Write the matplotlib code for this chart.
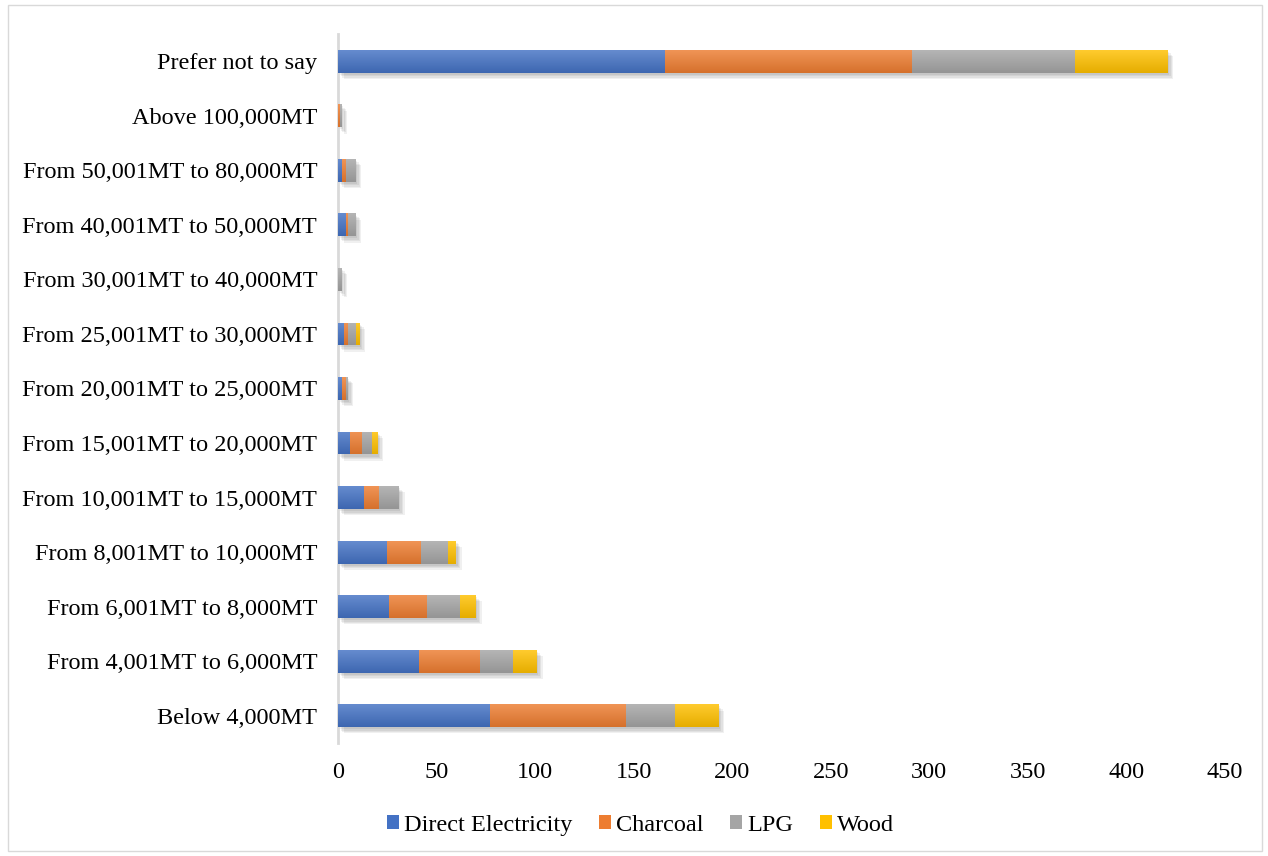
import numpy as np
import matplotlib
matplotlib.use("Agg")
import matplotlib.pyplot as plt
import matplotlib.patheffects as pe
from matplotlib.patches import Patch, Rectangle
from matplotlib.colors import to_rgb

categories = [
    "Below 4,000MT",
    "From 4,001MT to 6,000MT",
    "From 6,001MT to 8,000MT",
    "From 8,001MT to 10,000MT",
    "From 10,001MT to 15,000MT",
    "From 15,001MT to 20,000MT",
    "From 20,001MT to 25,000MT",
    "From 25,001MT to 30,000MT",
    "From 30,001MT to 40,000MT",
    "From 40,001MT to 50,000MT",
    "From 50,001MT to 80,000MT",
    "Above 100,000MT",
    "Prefer not to say",
]
series_names = ["Direct Electricity", "Charcoal", "LPG", "Wood"]
direct_electricity = [77, 41, 26, 25, 13, 6, 2, 3, 0, 4, 2, 0, 166]
charcoal = [69, 31, 19, 17, 8, 6, 2, 2, 0, 1, 2, 1, 125]
lpg = [25, 17, 17, 14, 10, 5, 1, 4, 2, 4, 5, 1, 83]
wood = [22, 12, 8, 4, 0, 3, 0, 2, 0, 0, 0, 0, 47]
x_ticks = [0, 50, 100, 150, 200, 250, 300, 350, 400, 450]

colors = ["#4472C4", "#ED7D31", "#A5A5A5", "#FFC000"]

plt.rcParams["font.family"] = ["Liberation Serif", "DejaVu Serif"]

W, H = 1268, 856
fig = plt.figure(figsize=(W / 100, H / 100), dpi=100)
ax = fig.add_axes([338 / W, 1 - 743 / H, (1225 - 338) / W, (743 - 34) / H])


def gradient_for(color):
    base = np.array(to_rgb(color))
    top = base + (1 - base) * 0.18
    bottom = base * 0.90
    t = np.linspace(0, 1, 64)[:, None]
    grad = top[None, :] * (1 - t) + bottom[None, :] * t
    return grad[:, None, :]


# soft drop shadow built from a few faint, progressively offset copies
shadow = [pe.SimplePatchShadow(offset=(d, -d - 0.5), shadow_rgbFace="#000000", alpha=0.06)
          for d in (1, 2, 3, 4)] + [pe.Normal()]

y = np.arange(len(categories))
bar_h = 0.42
left = np.zeros(len(categories))
for name, vals, col in zip(series_names, [direct_electricity, charcoal, lpg, wood], colors):
    vals = np.asarray(vals, dtype=float)
    bars = ax.barh(y, vals, left=left, height=bar_h, color=col, zorder=2, label=name)
    grad = gradient_for(col)
    for rect, v in zip(bars, vals):
        if v <= 0:
            rect.set_visible(False)
            continue
        rect.set_path_effects(shadow)
        x0, y0 = rect.get_x(), rect.get_y()
        im = ax.imshow(grad, extent=(x0, x0 + rect.get_width(), y0, y0 + rect.get_height()),
                       aspect="auto", origin="upper", zorder=3, interpolation="bilinear")
        im.set_clip_path(rect)
    left += vals

ax.set_xlim(0, 450)
ax.set_ylim(-0.5, len(categories) - 0.5)
ax.set_xticks(x_ticks)
ax.set_xticklabels([str(v) for v in x_ticks], fontsize=17.5)
ax.set_yticks(y)
ax.set_yticklabels(categories, fontsize=17.5)
ax.tick_params(axis="both", length=0, colors="#000000")
ax.tick_params(axis="y", pad=15)
ax.tick_params(axis="x", pad=14)
for s in ["top", "right", "bottom"]:
    ax.spines[s].set_visible(False)
ax.spines["left"].set_color("#D9D9D9")
ax.spines["left"].set_linewidth(2)

handles = [Patch(facecolor=c, edgecolor="none") for c in colors]
fig.legend(handles, series_names, loc="center", bbox_to_anchor=(0.505, 0.036),
           ncol=4, frameon=False, fontsize=17.5, handlelength=0.5, handleheight=0.5,
           handletextpad=0.2, columnspacing=1.1)

fig.patches.append(Rectangle((8 / W, 5 / H), (1262 - 8) / W, (851 - 5) / H,
                             transform=fig.transFigure, fill=False,
                             edgecolor="#D9D9D9", linewidth=1))

fig.savefig("out.png", dpi=100)
